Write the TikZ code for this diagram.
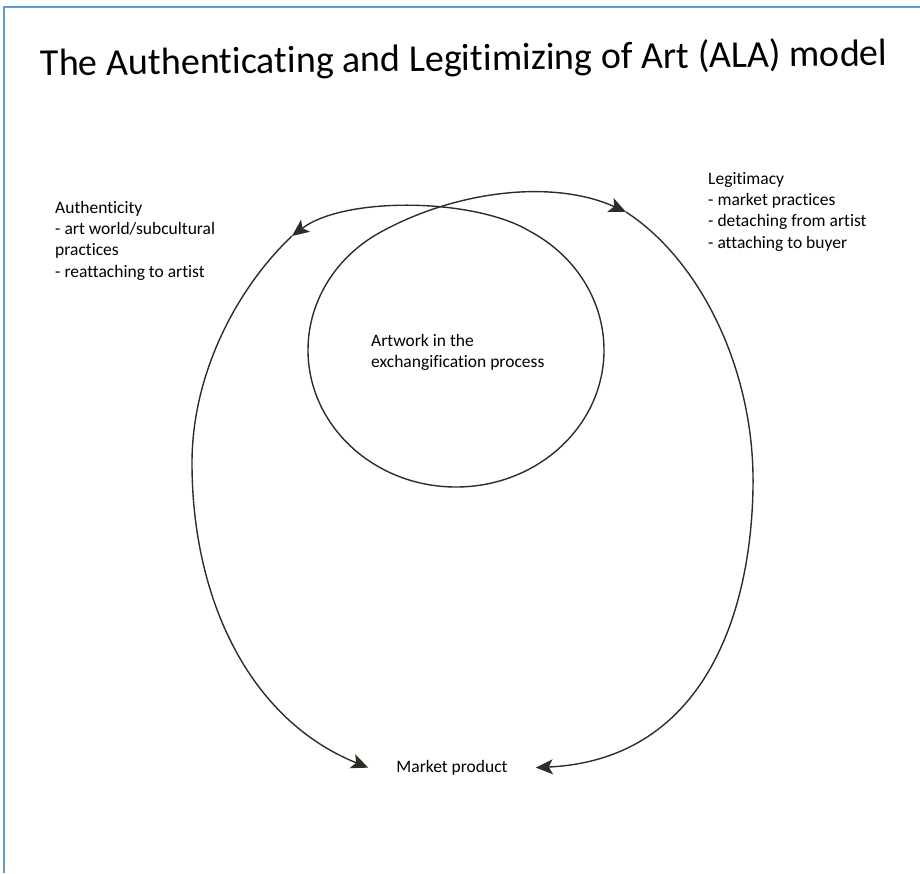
\documentclass[tikz,border=0pt]{standalone}
\usepackage{fontspec}
\setmainfont{Carlito}[Ligatures=NoCommon]
\usetikzlibrary{arrows.meta}
\definecolor{frameblue}{RGB}{91,155,213}
\definecolor{ink}{RGB}{45,45,40}
\tikzset{
    pageframe/.style={draw=frameblue, line width=2pt},
    flow/.style={draw=ink, line width=1.4pt, -{Stealth[length=17pt,width=15pt,inset=4pt]}},
    textblock/.style={inner sep=0pt, align=left, font=\fontsize{17.5}{21.3}\selectfont},
    heading/.style={inner sep=0pt, font=\fontsize{38}{40}\selectfont, rotate=0.7}
}

\begin{document}
\begin{tikzpicture}[x=1pt, y=-1pt]
          \useasboundingbox (0,0) rectangle (920,873);
          \draw[pageframe] (4,873) -- (4,7) -- (920,7);
          \node [heading] (title) at (464,60) {The Authenticating and Legitimizing of Art (ALA) model};
          \node [textblock, anchor=north west] (authentic) at (55,201) {Authenticity\\- art world/subcultural\\practices\\- reattaching to artist};
          \node [textblock, anchor=north west] (legitim) at (708,172) {Legitimacy\\- market practices\\- detaching from artist\\- attaching to buyer};
          \node [textblock, anchor=north west] (artwork) at (371,334) {Artwork in the\\exchangification process};
          \node [textblock, inner xsep=28pt] (market) at (452,767.6) {Market product};
          \coordinate (bottom) at (456,487);
          \coordinate (tipL) at (292,236);
          \coordinate (tipR) at (626,212);
          % circle, split at the crossing
          \draw [flow] (bottom) arc [start angle=90, end angle=240, x radius=148, y radius=137]
                .. controls (460,189) and (556,180) .. (tipR);
          \draw [flow] (bottom) arc [start angle=90, end angle=-60, x radius=148, y radius=137]
                .. controls (475,198) and (345,196) .. (tipL);
          % the two ways out to the market
          \draw [flow] (tipR) .. controls (700,260) and (755,370) .. (753,487)
                .. controls (751,620) and (700,760) .. (market.east);
          \draw [flow] (tipL) .. controls (240,285) and (192,370) .. (192,463)
                .. controls (192,600) and (250,720) .. (market.west);
        \end{tikzpicture}
\end{document}
